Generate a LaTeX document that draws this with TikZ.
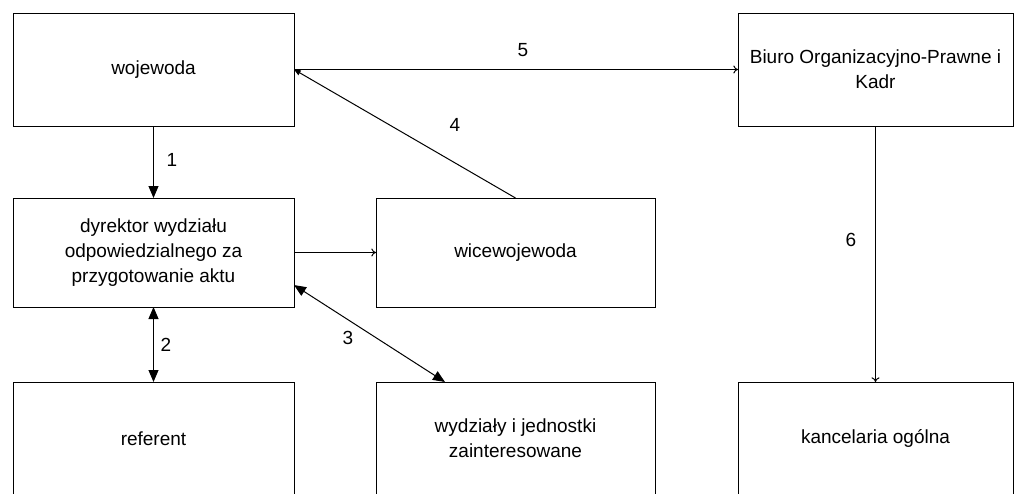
\documentclass[tikz,border=0pt]{standalone}
\usepackage{fontspec}
\setmainfont{Liberation Sans}
\usetikzlibrary{arrows.meta}
\tikzset{font=\fontsize{14.25}{18.75}\selectfont}
\tikzset{
  unit/.style={draw,align=center,inner sep=0pt,outer sep=0pt},
  fat/.style={-{Triangle[length=9pt,width=7.5pt]}},
  fatboth/.style={{Triangle[length=9pt,width=7.5pt]}-{Triangle[length=9pt,width=7.5pt]}},
  pass/.style={-{To[length=3.5pt,width=6pt]}},
  slim/.style={-{Triangle[length=5pt,width=4pt]}}
}

\begin{document}
\begin{tikzpicture}[x=0.75pt,y=-0.75pt,line width=0.75pt]
  \useasboundingbox (0,0) rectangle (1014,493);
  % top row
  \node[unit,minimum width=210.75pt,minimum height=84.75pt] (wojewoda) at (153.5,69.5) {wojewoda};
  \node[unit,minimum width=206.25pt,minimum height=84.75pt] (biuro) at (875.5,69.5) {Biuro Organizacyjno-Prawne i\\Kadr};
  % middle row
  \node[unit,minimum width=210.75pt,minimum height=81.75pt] (dyrektor) at (153.5,252.5) {dyrektor wydziału\\odpowiedzialnego za\\przygotowanie aktu};
  \node[unit,minimum width=209.25pt,minimum height=81.75pt] (wicewojewoda) at (515.5,252.5) {wicewojewoda};
  % bottom row
  \node[unit,minimum width=210.75pt,minimum height=84.75pt] (referent) at (153.5,438.5) {referent};
  \node[unit,minimum width=209.25pt,minimum height=84.75pt] (wydzialy) at (515.5,438.5) {wydziały i jednostki\\zainteresowane};
  \node[unit,minimum width=206.25pt,minimum height=84.75pt] (kancelaria) at (875.5,438.5) {kancelaria ogólna};

  \draw[fat] (wojewoda) -- (dyrektor);
  \draw[fatboth] (dyrektor) -- (referent);
  \draw[fatboth] ([yshift=-24.4pt]dyrektor.east) -- ([xshift=-52.9pt]wydzialy.north);
  \draw[pass] (dyrektor) -- (wicewojewoda);
  \draw[slim] (wicewojewoda.north) -- (wojewoda.east);
  \draw[pass] (wojewoda.east) -- (biuro.west);
  \draw[pass] (biuro) -- (kancelaria);

  \node (n1) at (172,160) {1};
  \node (n2) at (166,345) {2};
  \node (n3) at (348,338) {3};
  \node (n4) at (455,125) {4};
  \node (n5) at (523,50) {5};
  \node (n6) at (851,240) {6};
\end{tikzpicture}
\end{document}
